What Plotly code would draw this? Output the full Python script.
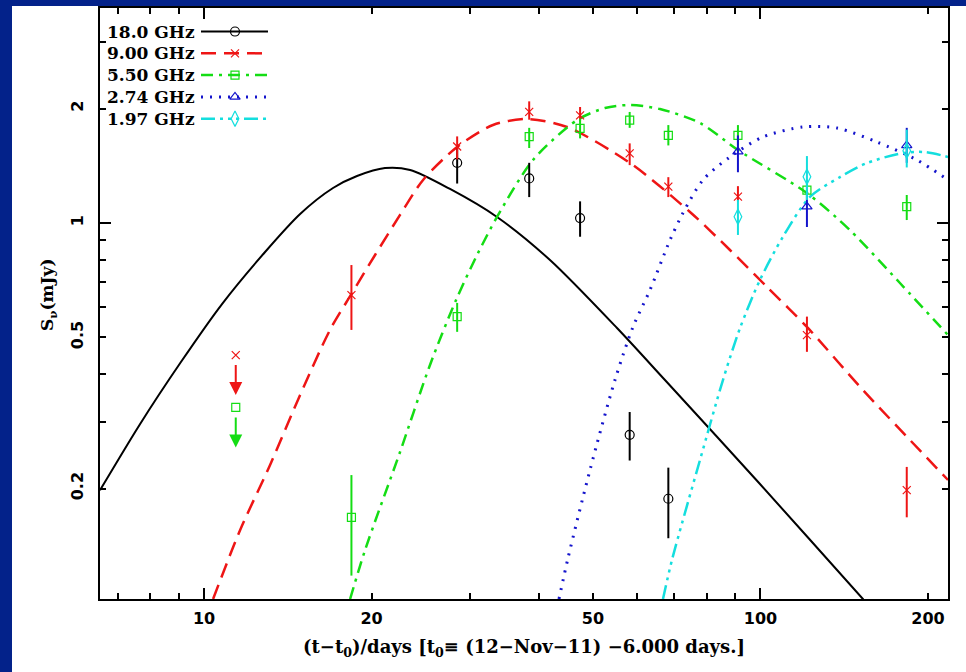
import numpy as np
import plotly.graph_objects as go

# ---------------- data ----------------
# observed flux densities (mJy) vs time since t0 (days)
t_18 = [28.5, 38.4, 47.4, 58.2, 68.3]
s_18 = [1.44, 1.31, 1.03, 0.277, 0.188]
s_18_hi = [1.60, 1.44, 1.14, 0.318, 0.227]
s_18_lo = [1.27, 1.17, 0.92, 0.237, 0.148]

t_9 = [18.4, 28.5, 38.4, 47.4, 58.2, 68.3, 91.1, 121.2, 183.2]
s_9 = [0.646, 1.59, 1.96, 1.92, 1.525, 1.246, 1.173, 0.507, 0.198]
s_9_hi = [0.775, 1.69, 2.09, 2.02, 1.62, 1.32, 1.25, 0.567, 0.228]
s_9_lo = [0.523, 1.47, 1.87, 1.85, 1.42, 1.17, 1.14, 0.458, 0.168]

t_5 = [18.4, 28.5, 38.4, 47.4, 58.2, 68.3, 91.1, 121.2, 183.2]
s_5 = [0.168, 0.567, 1.687, 1.775, 1.866, 1.70, 1.70, 1.22, 1.104]
s_5_hi = [0.217, 0.616, 1.78, 1.88, 1.96, 1.81, 1.81, 1.30, 1.185]
s_5_lo = [0.118, 0.517, 1.575, 1.67, 1.78, 1.60, 1.60, 1.15, 1.018]

t_274 = [91.1, 121.2, 183.2]
s_274 = [1.541, 1.104, 1.60]
s_274_hi = [1.70, 1.22, 1.78]
s_274_lo = [1.36, 0.976, 1.44]

t_197 = [91.1, 121.2, 183.2]
s_197 = [1.039, 1.324, 1.55]
s_197_hi = [1.15, 1.50, 1.76]
s_197_lo = [0.93, 1.15, 1.40]

# upper limits at the first epoch
t_lim = 11.4
lim_9 = 0.449
lim_5 = 0.327

# model light curves
tc_18 = [6.50, 7.674, 9.06, 10.77, 12.87, 14.88, 17.05, 18.83, 21.14, 23.46, 27.67,
         33.61, 41.85, 55.23, 67.35, 99.8, 152.8, 178.1]
fc_18 = [0.198, 0.2959, 0.428, 0.6119, 0.8388, 1.056, 1.236, 1.329, 1.395, 1.379, 1.229,
         1.037, 0.799, 0.529, 0.386, 0.2056, 0.1024, 0.080]

tc_9 = [10.38, 11.61, 13.14, 14.88, 16.84, 18.45, 20.29, 22.50, 24.75, 28.49,
        33.06, 38.05, 44.91, 58.29, 74.70, 88.14, 102.7, 121.2, 152.8, 217.3]
fc_9 = [0.1024, 0.1556, 0.2307, 0.3526, 0.5231, 0.6543, 0.8236, 1.050, 1.298, 1.585,
        1.811, 1.878, 1.789, 1.438, 1.069, 0.849, 0.679, 0.5325, 0.3635, 0.2107]

tc_5 = [18.30, 19.47, 22.50, 25.47, 28.37, 31.08, 33.61, 39.01, 46.81, 52.55,
        58.29, 65.98, 77.86, 91.12, 121.2, 144.8, 178.1, 217.3]
fc_5 = [0.1024, 0.1378, 0.2496, 0.4230, 0.627, 0.834, 1.037, 1.465, 1.866, 2.007,
        2.044, 1.995, 1.833, 1.556, 1.199, 0.958, 0.695, 0.507]

tc_274 = [43.44, 45.10, 49.39, 54.76, 59.00, 63.30, 68.78, 72.56, 78.83, 88.14,
          101.0, 119.2, 137.3, 161.9, 191.1, 217.3]
fc_274 = [0.1024, 0.1314, 0.2239, 0.386, 0.5325, 0.666, 0.902, 1.062, 1.298, 1.492,
          1.684, 1.789, 1.778, 1.634, 1.465, 1.298]

tc_197 = [66.80, 69.34, 77.86, 85.62, 91.89, 99.8, 109.7, 122.7, 139.0, 155.4,
          180.3, 197.5, 217.3]
fc_197 = [0.1024, 0.1298, 0.2378, 0.386, 0.529, 0.708, 0.919, 1.171, 1.321, 1.438,
          1.528, 1.537, 1.492]

labels = ["18.0 GHz", "9.00 GHz", "5.50 GHz", "2.74 GHz", "1.97 GHz"]
x_ticks = [10, 20, 50, 100, 200]
y_ticks = [0.2, 0.5, 1, 2]
x_minor = [7, 8, 9, 30, 40, 60, 70, 80, 90]
y_minor = [0.3, 0.4, 0.6, 0.7, 0.8, 0.9, 3]
x_range = [6.5, 217.3]
y_range = [0.1024, 3.68]

# ---------------- styles ----------------
colors = ["#000000", "#ee1515", "#14dd14", "#1414cc", "#14dede"]
dashes = ["solid", "15px,8px", "12px,6px,3px,6px", "2px,7px",
          "14px,5px,3px,5px,3px,5px,3px,5px"]
widths = [2, 2.5, 2.5, 3, 2.5]
symbols = ["circle-open", "x-thin", "square-open", "triangle-up-open", "diamond-tall-open"]
msizes = [9, 8, 8, 9, 11]

obs = [(t_18, s_18, s_18_hi, s_18_lo), (t_9, s_9, s_9_hi, s_9_lo),
       (t_5, s_5, s_5_hi, s_5_lo), (t_274, s_274, s_274_hi, s_274_lo),
       (t_197, s_197, s_197_hi, s_197_lo)]
curves = [(tc_18, fc_18), (tc_9, fc_9), (tc_5, fc_5), (tc_274, fc_274), (tc_197, fc_197)]

fig = go.Figure()

for i, (tc, fc) in enumerate(curves):
    fig.add_trace(go.Scatter(x=tc, y=fc, mode="lines",
                             line=dict(color=colors[i], width=widths[i], dash=dashes[i],
                                       shape="spline", smoothing=0.8),
                             hoverinfo="skip"))

for i, (t, s, hi, lo) in enumerate(obs):
    s_a = np.array(s)
    fig.add_trace(go.Scatter(
        x=t, y=s, mode="markers",
        marker=dict(symbol=symbols[i], size=msizes[i], color=colors[i],
                    line=dict(color=colors[i], width=1.2)),
        error_y=dict(type="data", symmetric=False,
                     array=list(np.array(hi) - s_a), arrayminus=list(s_a - np.array(lo)),
                     color=colors[i], thickness=2, width=0)))

# upper limit markers
fig.add_trace(go.Scatter(x=[t_lim], y=[lim_9], mode="markers",
                         marker=dict(symbol="x-thin", size=8, color=colors[1],
                                     line=dict(color=colors[1], width=1.2))))
fig.add_trace(go.Scatter(x=[t_lim], y=[lim_5], mode="markers",
                         marker=dict(symbol="square-open", size=8, color=colors[2],
                                     line=dict(color=colors[2], width=1.2))))

annotations = []
for val, col in [(lim_9, colors[1]), (lim_5, colors[2])]:
    annotations.append(dict(x=np.log10(t_lim), y=np.log10(val), xref="x", yref="y",
                            text=" ", showarrow=True, ax=0, ay=-40, yshift=-40,
                            arrowhead=2, arrowsize=1.3, arrowwidth=2, arrowcolor=col))

# ---------------- custom legend (symbol to the right of text) ----------------
leg_y = [0.9602, 0.9233, 0.8865, 0.8496, 0.8127]
leg_text_x = 0.1144
leg_line = [0.1191, 0.1981]
leg_mark = 0.1592
for i in range(5):
    fig.add_trace(go.Scatter(x=leg_line, y=[leg_y[i]] * 2, xaxis="x2", yaxis="y2",
                             mode="lines", hoverinfo="skip",
                             line=dict(color=colors[i], width=widths[i] if i != 3 else 3,
                                       dash=dashes[i])))
    fig.add_trace(go.Scatter(x=[leg_mark], y=[leg_y[i]], xaxis="x2", yaxis="y2",
                             mode="markers", hoverinfo="skip",
                             marker=dict(symbol=symbols[i], size=msizes[i], color=colors[i],
                                         line=dict(color=colors[i], width=1.2))))
    annotations.append(dict(x=leg_text_x, y=leg_y[i], xref="paper", yref="paper",
                            text=labels[i], showarrow=False, xanchor="right",
                            yanchor="middle",
                            font=dict(family="DejaVu Serif", size=17, color="black",
                                      weight="bold")))

# axis titles as paper annotations (fixed positions)
annotations.append(dict(x=0.5, y=(599 - 648) / 591, xref="paper", yref="paper",
                        text="(t\u2212t<sub>0</sub>)/days [t<sub>0</sub>\u2261 (12\u2212Nov\u221211) \u22126.000 days.]",
                        showarrow=False, xanchor="center", yanchor="middle",
                        font=dict(family="DejaVu Serif", size=18, color="black",
                                  weight="bold")))
annotations.append(dict(x=(48 - 100) / 848, y=(599 - 295) / 591, xref="paper", yref="paper",
                        text="S<sub>\u03bd</sub>(mJy)", textangle=-90,
                        showarrow=False, xanchor="center", yanchor="middle",
                        font=dict(family="DejaVu Serif", size=17, color="black",
                                  weight="bold")))

# dummy trace to carry the long decade ticks axis pair
fig.add_trace(go.Scatter(x=[10], y=[1], xaxis="x3", yaxis="y3", mode="markers",
                         marker=dict(opacity=0), hoverinfo="skip"))

tickfont = dict(family="DejaVu Sans", size=16, color="black", weight="bold")
axis_common = dict(showline=True, linewidth=2, linecolor="black", mirror="ticks",
                   showgrid=False, zeroline=False, ticks="inside", tickwidth=1.5,
                   tickcolor="black", ticklen=6, automargin=False)

fig.update_layout(
    width=966, height=672,
    margin=dict(l=100, r=18, t=8, b=73, autoexpand=False),
    paper_bgcolor="white",
    plot_bgcolor="white",
    showlegend=False,
    xaxis=dict(type="log", range=[np.log10(x_range[0]), np.log10(x_range[1])],
               tickmode="array", tickvals=x_ticks, ticktext=[str(v) for v in x_ticks],
               tickfont=tickfont, ticklabelstandoff=4,
               minor=dict(tickmode="array", tickvals=x_minor, ticks="inside", ticklen=6,
                          tickwidth=1.5, tickcolor="black", showgrid=False),
               **axis_common),
    yaxis=dict(type="log", range=[np.log10(y_range[0]), np.log10(y_range[1])],
               tickmode="array", tickvals=y_ticks, ticktext=[str(v) for v in y_ticks],
               tickfont=tickfont, tickangle=-90, ticklabelstandoff=9,
               minor=dict(tickmode="array", tickvals=y_minor, ticks="inside", ticklen=6,
                          tickwidth=1.5, tickcolor="black", showgrid=False),
               **axis_common),
    xaxis2=dict(overlaying="x", range=[0, 1], visible=False),
    yaxis2=dict(overlaying="y", range=[0, 1], visible=False),
    xaxis3=dict(overlaying="x", anchor="y3", type="log",
                range=[np.log10(x_range[0]), np.log10(x_range[1])],
                tickmode="array", tickvals=[10, 100], ticklen=11, ticks="inside",
                tickwidth=1.5, tickcolor="black", showticklabels=False, showline=True,
                linewidth=2, linecolor="black", mirror="ticks", showgrid=False,
                zeroline=False, automargin=False),
    yaxis3=dict(overlaying="y", anchor="x3", type="log",
                range=[np.log10(y_range[0]), np.log10(y_range[1])],
                tickmode="array", tickvals=[1], ticklen=11, ticks="inside",
                tickwidth=1.5, tickcolor="black", showticklabels=False, showline=True,
                linewidth=2, linecolor="black", mirror="ticks", showgrid=False,
                zeroline=False, automargin=False),
    annotations=annotations,
    shapes=[
        dict(type="rect", xref="paper", yref="paper",
             x0=1.0, x1=(966 - 100) / 848,
             y0=(599 - 672) / 591, y1=(599 - 6) / 591,
             fillcolor="white", line=dict(width=0), layer="below"),
        # dark blue slide border (left and top strips)
        dict(type="rect", xref="paper", yref="paper",
             x0=(0 - 100) / 848, x1=(12 - 100) / 848,
             y0=(599 - 672) / 591, y1=(599 - 0) / 591,
             fillcolor="#03228a", line=dict(width=0), layer="below"),
        dict(type="rect", xref="paper", yref="paper",
             x0=(0 - 100) / 848, x1=(966 - 100) / 848,
             y0=(599 - 6) / 591, y1=(599 - 0) / 591,
             fillcolor="#03228a", line=dict(width=0), layer="below"),
    ],
)

fig.write_html("out.html",
               config={"displayModeBar": False},
               post_script="document.documentElement.style.margin='0px';"
                           "document.documentElement.style.overflow='hidden';"
                           "document.documentElement.style.background='white';"
                           "document.body.style.margin='0px';"
                           "document.body.style.overflow='hidden';")
